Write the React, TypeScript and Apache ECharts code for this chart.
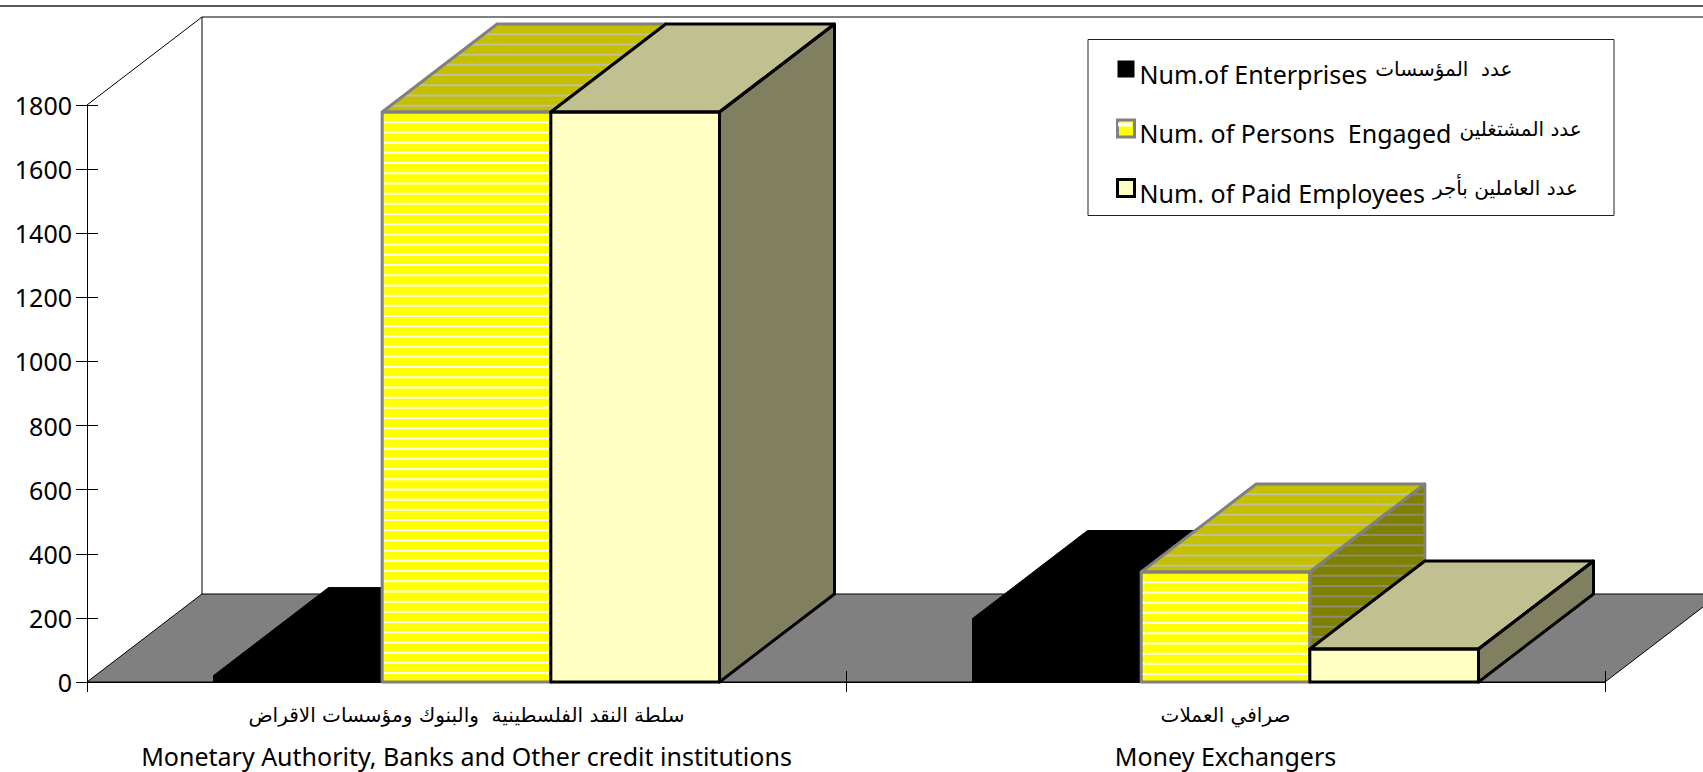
import React, { useEffect, useRef } from "react";
import * as echarts from "echarts";

const categoriesAr = ["سلطة النقد الفلسطينية  والبنوك ومؤسسات الاقراض", "صرافي العملات"];
const categoriesEn = ["Monetary Authority, Banks and Other credit institutions", "Money Exchangers"];
const seriesNames = ["Num.of Enterprises", "Num. of Persons  Engaged", "Num. of Paid Employees"];
const seriesNamesAr = ["عدد  المؤسسات", "عدد المشتغلين", "عدد العاملين بأجر"];
const enterprises = [20, 198];
const personsEngaged = [1778, 343];
const paidEmployees = [1778, 103];
const yTicks = { min: 0, max: 1800, interval: 200 };

const DX = 115;
const DY = 88;
const FONT = "'Noto Sans', sans-serif";
const AR_FONT = "'DejaVu Sans', sans-serif";

const faces = [
  { front: "#000000", top: "#000000", side: "#000000", border: "#000000", width: 1, stripes: null },
  {
    front: "#ffff00", top: "#c4c000", side: "#808000", border: "#808080", width: 3,
    stripes: { front: "#fffff0", top: "#c0c0a0", side: "#8c8c70" },
  },
  { front: "#ffffc4", top: "#c0c090", side: "#808060", border: "#000000", width: 3, stripes: null },
];

function polygon(points: number[][], style: any) {
  return { type: "polygon", shape: { points }, style };
}

function stripe(x1: number, x2: number, y: number, color: string) {
  return { type: "line", shape: { x1, y1: y, x2, y2: y }, style: { stroke: color, lineWidth: 2 } };
}

const STEP = 10.2;

function barRenderer(index: number) {
  return (_params: any, api: any) => {
    const cat = api.value(0);
    const top = api.coord([cat, api.value(1)]);
    const base = api.coord([cat, 0]);
    const band = api.size([1, 0])[0];
    const w = band / 4.5;
    const x0 = base[0] + (index - 1.5) * w;
    const x1 = x0 + w;
    const yf = top[1];
    const y0 = base[1];
    const f = faces[index];
    const children: any[] = [];
    children.push(polygon([[x0, yf], [x1, yf], [x1, y0], [x0, y0]], { fill: f.front }));
    children.push(polygon([[x0, yf], [x0 + DX, yf - DY], [x1 + DX, yf - DY], [x1, yf]], { fill: f.top }));
    children.push(polygon([[x1, yf], [x1 + DX, yf - DY], [x1 + DX, y0 - DY], [x1, y0]], { fill: f.side }));
    if (f.stripes) {
      for (let y = yf + STEP; y < y0; y += STEP) children.push(stripe(x0, x1, y, f.stripes.front));
      for (let y = yf - DY + STEP; y < yf; y += STEP) {
        const s = (DX * (yf - y)) / DY;
        children.push(stripe(x0 + s, x1 + s, y, f.stripes.top));
      }
      for (let y = yf - DY + STEP; y < y0; y += STEP) {
        const a = x1 + Math.max(0, (DX * (yf - y)) / DY);
        const b = x1 + Math.min(DX, (DX * (y0 - y)) / DY);
        children.push(stripe(a, b, y, f.stripes.side));
      }
    }
    const edge = { fill: "none", stroke: f.border, lineWidth: f.width, lineJoin: "round" };
    children.push(polygon([[x1, yf], [x1 + DX, yf - DY], [x1 + DX, y0 - DY], [x1, y0]], edge));
    children.push(polygon([[x0, yf], [x0 + DX, yf - DY], [x1 + DX, yf - DY], [x1, yf]], edge));
    children.push(polygon([[x0, yf], [x1, yf], [x1, y0], [x0, y0]], edge));
    return { type: "group", children };
  };
}

function wallsRenderer(params: any, _api: any) {
  const c = params.coordSys;
  const left = c.x;
  const right = c.x + c.width;
  const bottom = c.y + c.height;
  const top = c.y;
  const line = { stroke: "#000000", lineWidth: 1, fill: "none" };
  return {
    type: "group",
    children: [
      polygon([[left, bottom], [left + DX, bottom - DY], [right + DX, bottom - DY], [right, bottom]], {
        fill: "#808080", stroke: "#000000", lineWidth: 1,
      }),
      { type: "polyline", shape: { points: [[left, top], [left + DX, top - DY], [right + DX, top - DY]] }, style: line },
      { type: "line", shape: { x1: left + DX, y1: top - DY, x2: left + DX, y2: bottom - DY }, style: line },
    ],
  };
}

export default function App() {
  const ref = useRef<HTMLDivElement>(null);
  useEffect(() => {
    document.body.style.margin = "0";
    const chart = echarts.init(ref.current!, undefined, { renderer: "svg" });
    const values = [enterprises, personsEngaged, paidEmployees];
    chart.setOption({
      animation: false,
      backgroundColor: "#ffffff",
      grid: { left: 87, right: 98, top: 105, bottom: 90, outerBoundsMode: "none" },
      legend: {
        orient: "vertical",
        left: 1116,
        top: 52,
        padding: 0,
        itemWidth: 17,
        itemHeight: 17,
        itemGap: 25.5,
        selectedMode: false,
        icon: "rect",
        data: seriesNames.map((name, i) => ({
          name,
          itemStyle: {
            color: faces[i].front,
            borderColor: faces[i].border,
            borderWidth: i === 0 ? 0 : 3,
          },
        })),
        formatter: (name: string) =>
          `{en|${name}}{ar|${seriesNamesAr[seriesNames.indexOf(name)]}}`,
        textStyle: {
          rich: {
            en: { fontFamily: FONT, fontSize: 25, color: "#000", padding: [9, 8, 0, 0], lineHeight: 44 },
            ar: { fontFamily: AR_FONT, fontSize: 20, color: "#000", padding: [0, 0, 0, 0], lineHeight: 44 },
          },
        },
      },
      xAxis: [
        {
          type: "category",
          data: categoriesEn,
          position: "bottom",
          axisLine: { lineStyle: { color: "#000", width: 1 } },
          axisTick: { show: true, interval: 0, length: 10, lineStyle: { color: "#000" } },
          axisLabel: {
            margin: 12,
            interval: 0,
            formatter: (v: string) => `{ar|${categoriesAr[categoriesEn.indexOf(v)]}}\n{en|${v}}`,
            rich: {
              ar: { fontFamily: AR_FONT, fontSize: 20, color: "#000", lineHeight: 41 },
              en: { fontFamily: FONT, fontSize: 25, color: "#000", lineHeight: 41 },
            },
          },
        },
        {
          type: "category",
          data: categoriesEn,
          position: "bottom",
          axisLine: { show: false },
          axisTick: { show: true, interval: 0, inside: true, length: 11, lineStyle: { color: "#000" } },
          axisLabel: { show: false },
        },
      ],
      yAxis: [
        {
          type: "value",
          ...yTicks,
          position: "left",
          splitLine: { show: false },
          axisLine: { show: true, lineStyle: { color: "#000", width: 1 } },
          axisTick: { show: true, length: 11, lineStyle: { color: "#000" } },
          axisLabel: { fontFamily: FONT, fontSize: 25, color: "#000", margin: 15, formatter: (v: number) => String(v) },
        },
        {
          type: "value",
          ...yTicks,
          position: "left",
          splitLine: { show: false },
          axisLine: { show: false },
          axisTick: { show: true, inside: true, length: 11, lineStyle: { color: "#000" } },
          axisLabel: { show: false },
        },
      ],
      series: [
        {
          type: "custom",
          silent: true,
          z: -1,
          renderItem: wallsRenderer,
          data: [[0, 0]],
          encode: { x: 0, y: 1 },
        },
        ...seriesNames.map((name, i) => ({
          type: "custom",
          name,
          z: 3 + i,
          silent: true,
          renderItem: barRenderer(i),
          data: values[i].map((v, c) => [c, v]),
          encode: { x: 0, y: 1 },
          itemStyle: { color: faces[i].front },
        })),
      ],
      graphic: [
        { type: "line", z: 50, shape: { x1: 0, y1: 6, x2: 1703, y2: 6 }, style: { stroke: "#222", lineWidth: 1.5 } },
        { type: "rect", z: 0, shape: { x: 1088, y: 39.5, width: 526, height: 176 }, style: { fill: "#fff", stroke: "#222", lineWidth: 1 } },
        { type: "rect", z: 100, shape: { x: 1118, y: 122.5, width: 14, height: 4 }, style: { fill: "#fff" } },
      ],
    });
    return () => chart.dispose();
  }, []);
  return <div ref={ref} style={{ position: "fixed", left: 0, top: 0, width: 1703, height: 772 }} />;
}
